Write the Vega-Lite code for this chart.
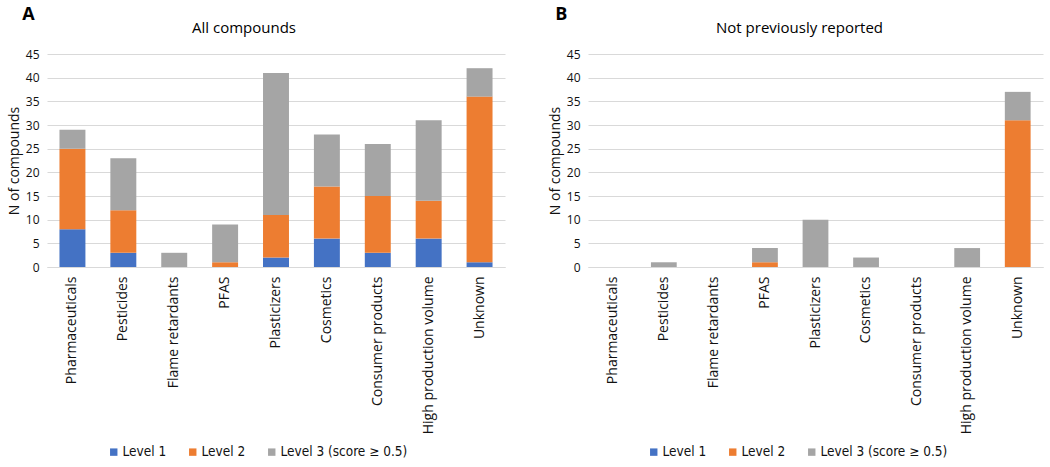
{
  "$schema": "https://vega.github.io/schema/vega-lite/v6.json",
  "background": "white",
  "padding": {"left": 7, "top": 6, "right": 7, "bottom": 4},
  "spacing": 43,
  "datasets": {
    "all": [
      {"category": "Pharmaceuticals", "level": "Level 1", "n": 8},
      {"category": "Pharmaceuticals", "level": "Level 2", "n": 17},
      {"category": "Pharmaceuticals", "level": "Level 3 (score ≥ 0.5)", "n": 4},
      {"category": "Pesticides", "level": "Level 1", "n": 3},
      {"category": "Pesticides", "level": "Level 2", "n": 9},
      {"category": "Pesticides", "level": "Level 3 (score ≥ 0.5)", "n": 11},
      {"category": "Flame retardants", "level": "Level 1", "n": 0},
      {"category": "Flame retardants", "level": "Level 2", "n": 0},
      {"category": "Flame retardants", "level": "Level 3 (score ≥ 0.5)", "n": 3},
      {"category": "PFAS", "level": "Level 1", "n": 0},
      {"category": "PFAS", "level": "Level 2", "n": 1},
      {"category": "PFAS", "level": "Level 3 (score ≥ 0.5)", "n": 8},
      {"category": "Plasticizers", "level": "Level 1", "n": 2},
      {"category": "Plasticizers", "level": "Level 2", "n": 9},
      {"category": "Plasticizers", "level": "Level 3 (score ≥ 0.5)", "n": 30},
      {"category": "Cosmetics", "level": "Level 1", "n": 6},
      {"category": "Cosmetics", "level": "Level 2", "n": 11},
      {"category": "Cosmetics", "level": "Level 3 (score ≥ 0.5)", "n": 11},
      {"category": "Consumer products", "level": "Level 1", "n": 3},
      {"category": "Consumer products", "level": "Level 2", "n": 12},
      {"category": "Consumer products", "level": "Level 3 (score ≥ 0.5)", "n": 11},
      {"category": "High production volume", "level": "Level 1", "n": 6},
      {"category": "High production volume", "level": "Level 2", "n": 8},
      {"category": "High production volume", "level": "Level 3 (score ≥ 0.5)", "n": 17},
      {"category": "Unknown", "level": "Level 1", "n": 1},
      {"category": "Unknown", "level": "Level 2", "n": 35},
      {"category": "Unknown", "level": "Level 3 (score ≥ 0.5)", "n": 6}
    ],
    "new": [
      {"category": "Pharmaceuticals", "level": "Level 1", "n": 0},
      {"category": "Pharmaceuticals", "level": "Level 2", "n": 0},
      {"category": "Pharmaceuticals", "level": "Level 3 (score ≥ 0.5)", "n": 0},
      {"category": "Pesticides", "level": "Level 1", "n": 0},
      {"category": "Pesticides", "level": "Level 2", "n": 0},
      {"category": "Pesticides", "level": "Level 3 (score ≥ 0.5)", "n": 1},
      {"category": "Flame retardants", "level": "Level 1", "n": 0},
      {"category": "Flame retardants", "level": "Level 2", "n": 0},
      {"category": "Flame retardants", "level": "Level 3 (score ≥ 0.5)", "n": 0},
      {"category": "PFAS", "level": "Level 1", "n": 0},
      {"category": "PFAS", "level": "Level 2", "n": 1},
      {"category": "PFAS", "level": "Level 3 (score ≥ 0.5)", "n": 3},
      {"category": "Plasticizers", "level": "Level 1", "n": 0},
      {"category": "Plasticizers", "level": "Level 2", "n": 0},
      {"category": "Plasticizers", "level": "Level 3 (score ≥ 0.5)", "n": 10},
      {"category": "Cosmetics", "level": "Level 1", "n": 0},
      {"category": "Cosmetics", "level": "Level 2", "n": 0},
      {"category": "Cosmetics", "level": "Level 3 (score ≥ 0.5)", "n": 2},
      {"category": "Consumer products", "level": "Level 1", "n": 0},
      {"category": "Consumer products", "level": "Level 2", "n": 0},
      {"category": "Consumer products", "level": "Level 3 (score ≥ 0.5)", "n": 0},
      {"category": "High production volume", "level": "Level 1", "n": 0},
      {"category": "High production volume", "level": "Level 2", "n": 0},
      {"category": "High production volume", "level": "Level 3 (score ≥ 0.5)", "n": 4},
      {"category": "Unknown", "level": "Level 1", "n": 0},
      {"category": "Unknown", "level": "Level 2", "n": 31},
      {"category": "Unknown", "level": "Level 3 (score ≥ 0.5)", "n": 6}
    ]
  },
  "hconcat": [
    {
      "title": {"text": "A", "anchor": "start", "frame": "bounds", "dx": 15, "offset": -3, "fontSize": 18, "fontWeight": "bold", "font": "Open Sans", "color": "#000"},
      "vconcat": [
        {
          "data": {"name": "all"},
          "width": 458,
          "height": 213,
          "title": {"text": "All compounds", "dx": -32},
          "mark": {"type": "bar"},
          "encoding": {
            "x": {
              "field": "category", "type": "nominal", "sort": null,
              "scale": {"domain": ["Pharmaceuticals", "Pesticides", "Flame retardants", "PFAS", "Plasticizers", "Cosmetics", "Consumer products", "High production volume", "Unknown"], "paddingInner": 0.49, "paddingOuter": 0.245},
              "axis": {"title": null, "labelAngle": -90}
            },
            "y": {
              "field": "n", "type": "quantitative", "stack": "zero",
              "scale": {"domain": [0, 45], "nice": false},
              "axis": {"title": "N of compounds", "values": [0, 5, 10, 15, 20, 25, 30, 35, 40, 45]}
            },
            "color": {
              "field": "level", "type": "nominal",
              "scale": {"domain": ["Level 1", "Level 2", "Level 3 (score ≥ 0.5)"], "range": ["#4472C4", "#ED7D31", "#A5A5A5"]},
              "legend": {"orient": "none", "legendX": 60, "legendY": 391, "direction": "horizontal", "title": null}
            },
            "order": {"field": "level", "sort": "ascending"}
          }
        }
      ]
    },
    {
      "title": {"text": "B", "anchor": "start", "frame": "bounds", "dx": 7, "offset": -3, "fontSize": 18, "fontWeight": "bold", "font": "Open Sans", "color": "#000"},
      "vconcat": [
        {
          "data": {"name": "new"},
          "width": 455,
          "height": 213,
          "title": {"text": "Not previously reported", "dx": -16},
          "mark": {"type": "bar"},
          "encoding": {
            "x": {
              "field": "category", "type": "nominal", "sort": null,
              "scale": {"domain": ["Pharmaceuticals", "Pesticides", "Flame retardants", "PFAS", "Plasticizers", "Cosmetics", "Consumer products", "High production volume", "Unknown"], "paddingInner": 0.49, "paddingOuter": 0.245},
              "axis": {"title": null, "labelAngle": -90}
            },
            "y": {
              "field": "n", "type": "quantitative", "stack": "zero",
              "scale": {"domain": [0, 45], "nice": false},
              "axis": {"title": "N of compounds", "values": [0, 5, 10, 15, 20, 25, 30, 35, 40, 45]}
            },
            "color": {
              "field": "level", "type": "nominal",
              "scale": {"domain": ["Level 1", "Level 2", "Level 3 (score ≥ 0.5)"], "range": ["#4472C4", "#ED7D31", "#A5A5A5"]},
              "legend": {"orient": "none", "legendX": 59, "legendY": 391, "direction": "horizontal", "title": null}
            },
            "order": {"field": "level", "sort": "ascending"}
          }
        }
      ]
    }
  ],
  "resolve": {"scale": {"color": "independent"}, "legend": {"color": "independent"}},
  "config": {
    "view": {"stroke": null},
    "font": "Open Sans",
    "title": {"fontSize": 15, "fontWeight": "normal", "font": "Open Sans", "color": "#000", "offset": 12},
    "axis": {
      "labelFont": "Open Sans", "titleFont": "Open Sans", "labelColor": "#111", "titleColor": "#111",
      "titleFontWeight": "normal", "ticks": false, "gridColor": "#D9D9D9", "domainColor": "#D9D9D9"
    },
    "axisX": {"labelFontSize": 14, "labelPadding": 9, "grid": false, "domain": true},
    "axisY": {"labelFontSize": 12, "labelPadding": 8, "titleFontSize": 14, "titlePadding": 4, "domain": false, "grid": true},
    "legend": {
      "labelFont": "Liberation Sans Narrow, DejaVu Sans Condensed, Roboto, sans-serif",
      "labelFontSize": 13.5, "labelColor": "#111", "symbolType": "square", "symbolSize": 55,
      "symbolStrokeWidth": 0, "columnPadding": 19, "labelOffset": 2
    }
  }
}
